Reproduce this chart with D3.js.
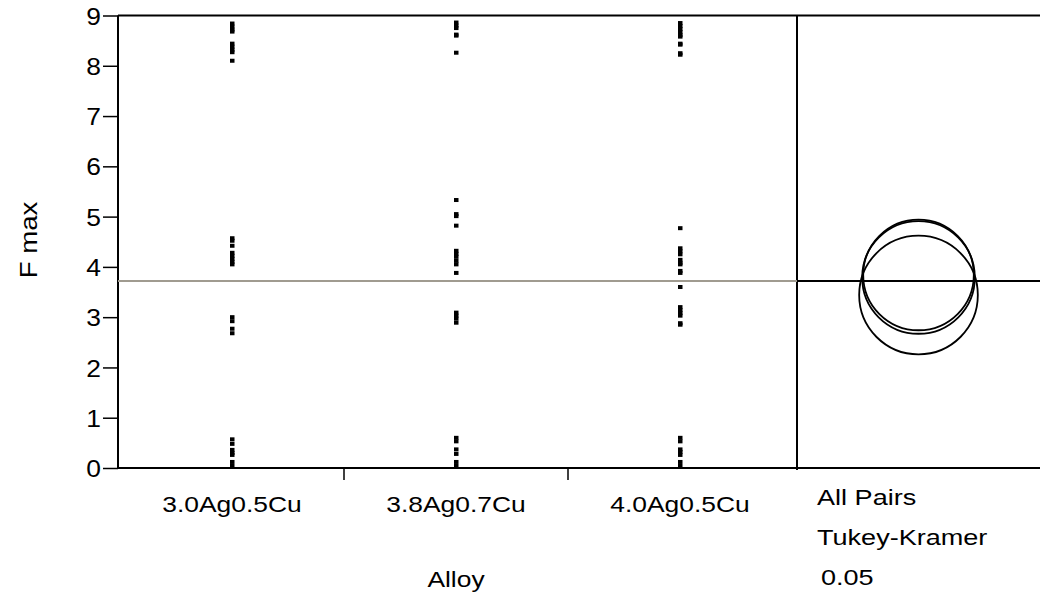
<!DOCTYPE html>
<html>
<head>
<meta charset="utf-8">
<script src="https://cdn.jsdelivr.net/npm/d3@7"></script>
<style>
  body { margin: 0; background: #fff; }
  text { font-family: "Liberation Sans", Arial, sans-serif; fill: #000; }
</style>
</head>
<body>
<svg width="1040" height="598"></svg>
<script>
// categories and observed values (F max) per alloy
var alloys = ["3.0Ag0.5Cu", "3.8Ag0.7Cu", "4.0Ag0.5Cu"];
var fmax1 = [8.84, 8.78, 8.72, 8.68, 8.44, 8.38, 8.32, 8.27, 8.10, 4.57, 4.52, 4.42, 4.28, 4.22, 4.16, 4.10, 4.05, 3.00, 2.92, 2.77, 2.68, 0.57, 0.48, 0.36, 0.30, 0.26, 0.12, 0.04];
var fmax2 = [8.86, 8.80, 8.75, 8.62, 8.60, 8.26, 5.33, 5.05, 5.01, 4.82, 4.32, 4.26, 4.20, 4.12, 4.05, 3.88, 3.09, 3.03, 2.97, 2.89, 0.60, 0.53, 0.37, 0.28, 0.12, 0.04];
var fmax3 = [8.85, 8.79, 8.73, 8.67, 8.61, 8.58, 8.44, 8.42, 8.25, 8.22, 4.77, 4.37, 4.31, 4.25, 4.14, 4.08, 4.05, 3.92, 3.88, 3.60, 3.20, 3.14, 3.08, 3.03, 2.88, 2.85, 0.60, 0.53, 0.37, 0.32, 0.26, 0.12, 0.04];
var grandMean = 3.72;
// comparison circles (Tukey-Kramer 0.05)
var circleMeans = [3.84, 3.79, 3.44];
var circleRadii = [1.10, 1.12, 1.18];
var yTicks = [0, 1, 2, 3, 4, 5, 6, 7, 8, 9];

var svg = d3.select("svg");
var pLeft = 118, pRight = 1040, divider = 797, pTop = 15.5, pBottom = 468;

var x = d3.scaleBand().domain(alloys).range([120, 792]);
var y = d3.scaleLinear().domain([0, 9]).range([pBottom, pTop]);

var fs = 22, sx = 1.2;

// frame
svg.append("line").attr("x1", pLeft).attr("x2", pRight).attr("y1", pTop).attr("y2", pTop)
  .attr("stroke", "#000").attr("stroke-width", 2);
svg.append("line").attr("x1", pLeft).attr("x2", pRight).attr("y1", pBottom).attr("y2", pBottom)
  .attr("stroke", "#000").attr("stroke-width", 2);
svg.append("line").attr("x1", divider).attr("x2", divider).attr("y1", pTop).attr("y2", pBottom + 2)
  .attr("stroke", "#000").attr("stroke-width", 2);

// group separators below the axis
var seps = alloys.slice(1).map(function(a) { return x(a); });
svg.selectAll(".sep").data(seps).enter().append("line")
  .attr("x1", function(d) { return d; }).attr("x2", function(d) { return d; })
  .attr("y1", pBottom).attr("y2", pBottom + 12)
  .attr("stroke", "#000").attr("stroke-width", 1.5);

// y axis
var yAxis = svg.append("g").attr("transform", "translate(" + pLeft + ",0)")
  .call(d3.axisLeft(y).tickValues(yTicks).tickSize(15).tickPadding(3).tickFormat(d3.format("d")));
yAxis.select(".domain").attr("stroke-width", 2).attr("d", "M0," + pTop + "V" + pBottom);
yAxis.selectAll(".tick line").attr("stroke-width", 1.5);
yAxis.selectAll(".tick text")
  .attr("font-size", 24).attr("font-family", "Liberation Sans, Arial, sans-serif")
  .attr("dy", "0.36em")
  .attr("transform", "scale(1.1,1)")
  .attr("x", -17 / 1.1);

// grand mean lines
svg.append("line").attr("x1", pLeft).attr("x2", divider)
  .attr("y1", y(grandMean)).attr("y2", y(grandMean))
  .attr("stroke", "#a09b90").attr("stroke-width", 2);
svg.append("line").attr("x1", divider).attr("x2", pRight)
  .attr("y1", y(grandMean)).attr("y2", y(grandMean))
  .attr("stroke", "#000").attr("stroke-width", 2);

// points
var groups = [fmax1, fmax2, fmax3];
var pts = [];
groups.forEach(function(vals, i) {
  vals.forEach(function(v) { pts.push({alloy: alloys[i], value: v}); });
});
svg.selectAll(".pt").data(pts).enter().append("rect")
  .attr("class", "pt")
  .attr("x", function(d) { return x(d.alloy) + x.bandwidth() / 2 - 2; })
  .attr("y", function(d) { return y(d.value) - 2; })
  .attr("width", 4.5).attr("height", 4)
  .attr("fill", "#000");

// comparison circles
var cx = (divider + pRight) / 2;
svg.selectAll(".circ").data(circleMeans).enter().append("circle")
  .attr("cx", cx)
  .attr("cy", function(d) { return y(d); })
  .attr("r", function(d, i) { return y(0) - y(circleRadii[i]); })
  .attr("fill", "none").attr("stroke", "#000").attr("stroke-width", 1.8);

// category labels
svg.selectAll(".cat").data(alloys).enter().append("text")
  .attr("transform", function(d) { return "translate(" + (x(d) + x.bandwidth() / 2) + ",512) scale(" + sx + ",1)"; })
  .attr("text-anchor", "middle").attr("font-size", fs)
  .text(function(d) { return d; });

// axis titles
svg.append("text")
  .attr("transform", "translate(" + (x(alloys[1]) + x.bandwidth() / 2) + ",587) scale(" + sx + ",1)")
  .attr("text-anchor", "middle").attr("font-size", fs).text("Alloy");
svg.append("text")
  .attr("transform", "translate(37,240) rotate(-90) scale(" + sx + ",1)")
  .attr("text-anchor", "middle").attr("font-size", 23).text("F max");

// comparison method labels
var notes = ["All Pairs", "Tukey-Kramer", "0.05"];
svg.selectAll(".note").data(notes).enter().append("text")
  .attr("transform", function(d, i) { return "translate(" + (i === 2 ? 821 : 817) + "," + (505 + i * 40) + ") scale(1.23,1)"; })
  .attr("font-size", fs)
  .text(function(d) { return d; });
</script>
</body>
</html>
